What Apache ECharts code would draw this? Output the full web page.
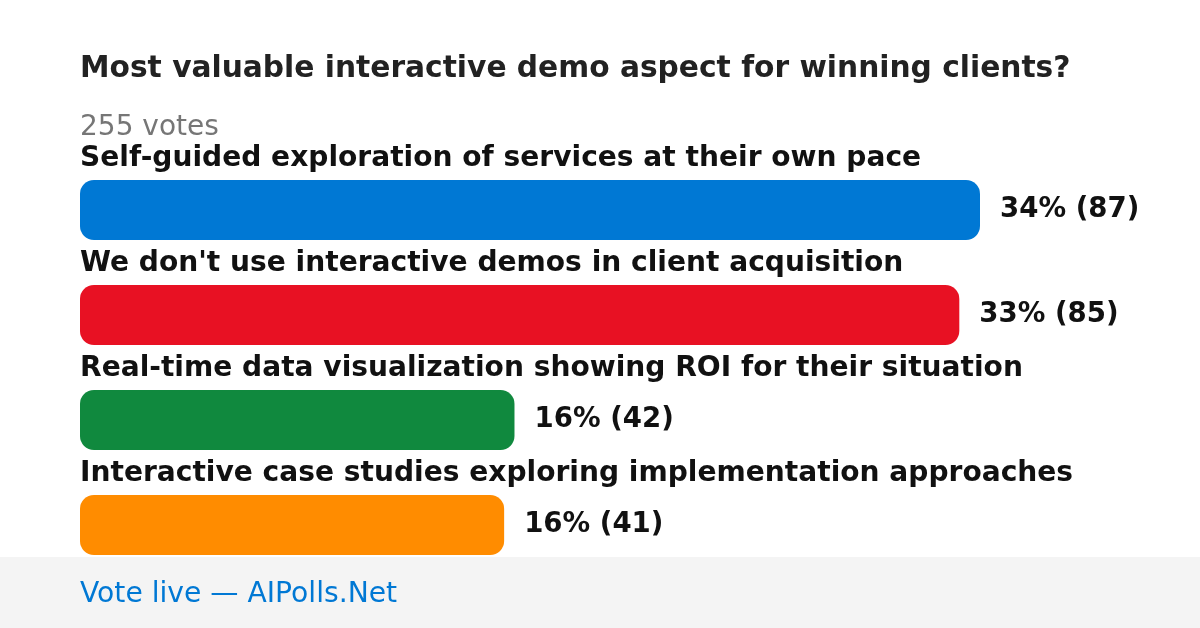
<!DOCTYPE html>
<html>
<head>
<meta charset="utf-8">
<script src="https://cdn.jsdelivr.net/npm/echarts@6/dist/echarts.min.js"></script>
<style>html,body{margin:0;padding:0;background:#fff}#c{width:1200px;height:628px}</style>
</head>
<body>
<div id="c"></div>
<script>
const titleText = "Most valuable interactive demo aspect for winning clients?";
const totalVotes = 255;
const categories = [
  "Self-guided exploration of services at their own pace",
  "We don't use interactive demos in client acquisition",
  "Real-time data visualization showing ROI for their situation",
  "Interactive case studies exploring implementation approaches"
];
const votes = [87, 85, 42, 41];
const percents = [34, 33, 16, 16];
const colors = ["#0078d4", "#e81123", "#10893e", "#ff8c00"];
const footerText = "Vote live \u2014 AIPolls.Net";

const FONT = "DejaVu Sans";
const chart = echarts.init(document.getElementById('c'), null, {renderer: 'canvas'});
chart.setOption({
  animation: false,
  backgroundColor: '#ffffff',
  graphic: [{
    type: 'rect', left: 0, top: 557, shape: {width: 1200, height: 71},
    style: {fill: '#f4f4f4'}, z: -10
  }],
  title: [
    {text: titleText, left: 80, top: 54, padding: 0,
     textStyle: {fontFamily: FONT, fontSize: 29.7, fontWeight: 'bold', color: '#222222'}},
    {text: totalVotes + ' votes', left: 80, top: 114, padding: 0,
     textStyle: {fontFamily: FONT, fontSize: 28, fontWeight: 'normal', color: '#767676'}},
    {text: footerText, left: 80, top: 581, padding: 0,
     textStyle: {fontFamily: FONT, fontSize: 28.2, fontWeight: 'normal', color: '#0078d4'}}
  ],
  grid: {left: 80, width: 900, top: 157.5, height: 420, containLabel: false},
  xAxis: {type: 'value', min: 0, max: 87, show: false},
  yAxis: {type: 'category', data: categories, inverse: true, show: false},
  series: [
    {
      type: 'bar', barWidth: 60, barGap: '-100%',
      data: votes.map((v, i) => ({value: v, itemStyle: {color: colors[i], borderRadius: 14}})),
      label: {
        show: true, position: 'right', distance: 20,
        formatter: p => percents[p.dataIndex] + '% (' + votes[p.dataIndex] + ')',
        fontFamily: FONT, fontSize: 27.6, fontWeight: 'bold', color: '#111111'
      }
    },
    {
      type: 'bar', barWidth: 60, barGap: '-100%', silent: true,
      data: votes.map(v => ({value: v, itemStyle: {color: 'rgba(0,0,0,0)'}})),
      label: {
        show: true, position: [0, -21], align: 'left', verticalAlign: 'middle',
        formatter: p => categories[p.dataIndex],
        fontFamily: FONT, fontSize: 28.1, fontWeight: 'bold', color: '#111111'
      }
    }
  ]
});
</script>
</body>
</html>
